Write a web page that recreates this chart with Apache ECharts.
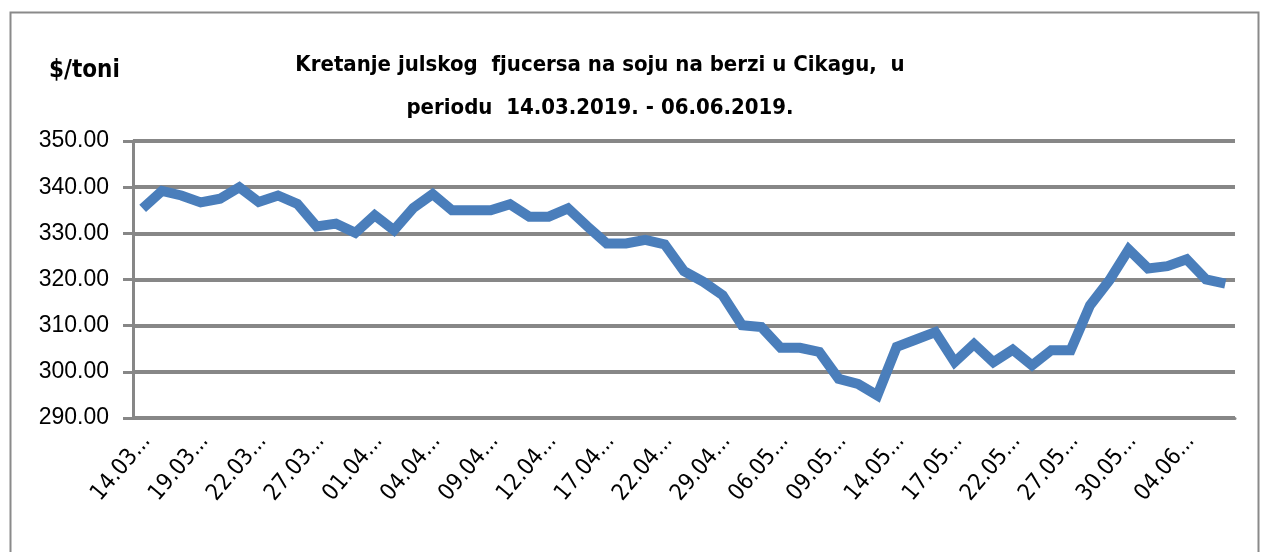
<!DOCTYPE html>
<html>
<head>
<meta charset="utf-8">
<title>Kretanje julskog fjucersa na soju</title>
<script src="https://cdn.jsdelivr.net/npm/echarts@6/dist/echarts.min.js"></script>
<style>
  html, body { margin: 0; padding: 0; background: #fff; }
  #chart { width: 1264px; height: 552px; }
</style>
</head>
<body>
<div id="chart"></div>
<script>
// trading days, 14.03.2019 - 06.06.2019
const dates = [
  '14.03.2019.', '15.03.2019.', '18.03.2019.', '19.03.2019.', '20.03.2019.', '21.03.2019.',
  '22.03.2019.', '25.03.2019.', '26.03.2019.', '27.03.2019.', '28.03.2019.', '29.03.2019.',
  '01.04.2019.', '02.04.2019.', '03.04.2019.', '04.04.2019.', '05.04.2019.', '08.04.2019.',
  '09.04.2019.', '10.04.2019.', '11.04.2019.', '12.04.2019.', '15.04.2019.', '16.04.2019.',
  '17.04.2019.', '18.04.2019.', '19.04.2019.', '22.04.2019.', '24.04.2019.', '25.04.2019.',
  '29.04.2019.', '30.04.2019.', '02.05.2019.', '06.05.2019.', '07.05.2019.', '08.05.2019.',
  '09.05.2019.', '10.05.2019.', '13.05.2019.', '14.05.2019.', '15.05.2019.', '16.05.2019.',
  '17.05.2019.', '20.05.2019.', '21.05.2019.', '22.05.2019.', '23.05.2019.', '24.05.2019.',
  '27.05.2019.', '28.05.2019.', '29.05.2019.', '30.05.2019.', '31.05.2019.', '03.06.2019.',
  '04.06.2019.', '05.06.2019.', '06.06.2019.'
]

// $/toni
const prices = [
  335.4, 339.2, 338.2, 336.7, 337.5, 340.0,
  336.8, 338.2, 336.4, 331.5, 332.1, 330.1,
  333.9, 330.7, 335.5, 338.5, 335.0, 335.0,
  335.0, 336.3, 333.6, 333.6, 335.4, 331.5,
  327.8, 327.8, 328.6, 327.6, 321.8, 319.5,
  316.6, 310.1, 309.7, 305.2, 305.2, 304.3,
  298.5, 297.4, 294.9, 305.4, 307.0, 308.6,
  302.1, 306.0, 302.1, 304.8, 301.4, 304.7,
  304.7, 314.4, 319.8, 326.5, 322.4, 322.9,
  324.4, 320.0, 319.1
]

const yTicks = { min: 290, max: 350, step: 10 }

const chartTitle = 'Kretanje julskog  fjucersa na soju na berzi u Cikagu,  u\nperiodu  14.03.2019. - 06.06.2019.'
const unitLabel = '$/toni'

const narrow = "'Liberation Sans Narrow', 'DejaVu Sans Condensed', 'Liberation Sans', sans-serif"

const chart = echarts.init(document.getElementById('chart'))

const option = {
  animation: false,
  backgroundColor: '#ffffff',
  title: [
    {
      text: chartTitle,
      left: 595,
      top: 39,
      textAlign: 'center',
      textStyle: {
        fontFamily: narrow,
        fontSize: 22,
        fontWeight: 'bold',
        color: '#000',
        lineHeight: 43
      }
    },
    {
      text: unitLabel,
      left: 44,
      top: 54,
      textStyle: {
        fontFamily: narrow,
        fontSize: 24,
        fontWeight: 'bold',
        color: '#000'
      }
    }
  ],
  graphic: [
    {
      type: 'rect',
      left: 8,
      top: 10,
      shape: { width: 1248, height: 600 },
      style: { fill: 'none', stroke: '#8a8a8a', lineWidth: 2 },
      silent: true
    }
  ],
  grid: {
    left: 133,
    right: 29,
    top: 141,
    bottom: 134
  },
  xAxis: {
    type: 'category',
    data: dates,
    boundaryGap: true,
    axisLine: { lineStyle: { color: '#878787', width: 3 } },
    axisTick: { show: false },
    axisLabel: {
      interval: 2,
      rotate: 50,
      margin: 24,
      fontFamily: narrow,
      fontSize: 23,
      color: '#000',
      padding: [0, -6, 0, 0],
      formatter: v => v.slice(0, 5) + '...'
    },
    splitLine: { show: false }
  },
  yAxis: {
    type: 'value',
    min: yTicks.min,
    max: yTicks.max,
    interval: yTicks.step,
    axisLine: { show: true, lineStyle: { color: '#878787', width: 3 } },
    axisTick: { show: true, length: 10, lineStyle: { color: '#878787', width: 3 } },
    axisLabel: {
      margin: 24,
      fontFamily: "'Liberation Sans', Arial, sans-serif",
      fontSize: 23,
      color: '#000',
      formatter: v => v.toFixed(2)
    },
    splitLine: { lineStyle: { color: '#878787', width: 4 } }
  },
  series: [
    {
      name: 'Soja jul',
      type: 'line',
      data: prices,
      symbol: 'none',
      smooth: false,
      lineStyle: { color: '#4a7ebb', width: 10, cap: 'butt', join: 'miter' }
    }
  ]
}

chart.setOption(option)
window.addEventListener('resize', () => chart.resize())
</script>
</body>
</html>
